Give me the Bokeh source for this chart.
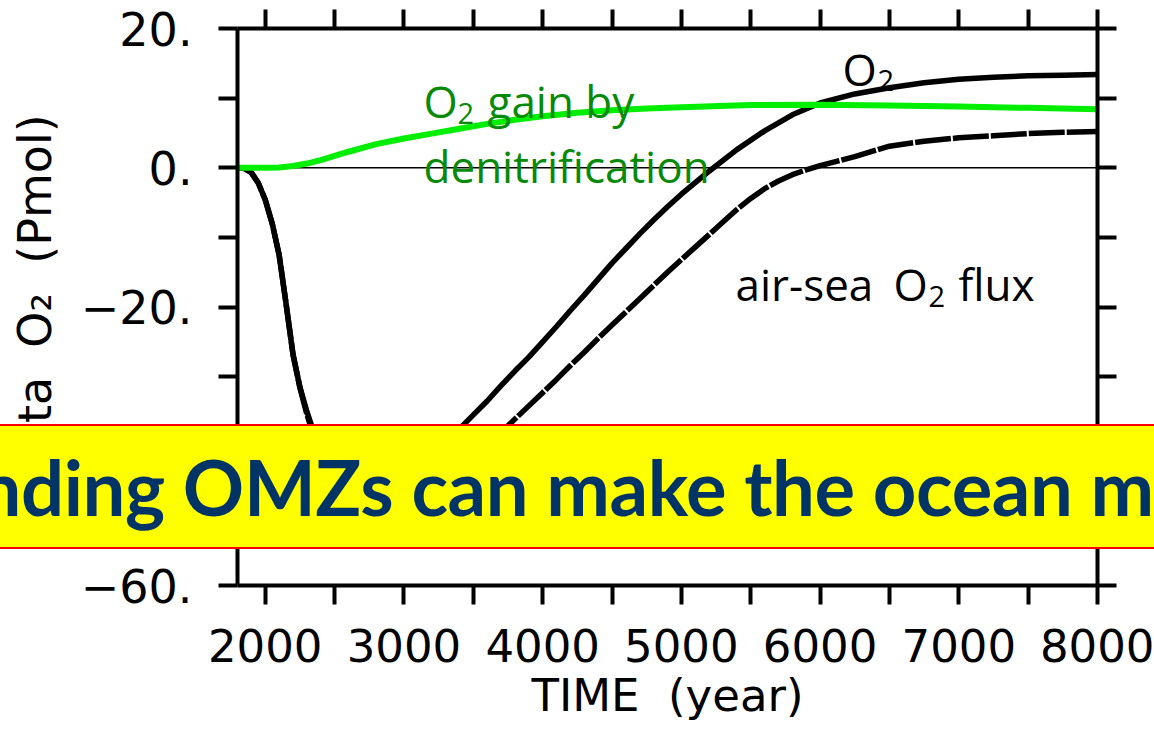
from bokeh.plotting import figure
from bokeh.models import Range1d, FixedTicker, Span, Label, LinearAxis, GridBox, Div
from bokeh.embed import file_html
from bokeh.resources import INLINE

# ---------------- data ----------------
years_o2 = [1800, 1850, 1900, 1950, 2000, 2050, 2100, 2150, 2200, 2250, 2300, 2350,
            2400, 2500, 2600, 2700, 2800, 2900, 3000, 3100, 3200, 3300, 3400, 3500,
            3600, 3700, 3800, 3900, 4000, 4100, 4200, 4300, 4400, 4500, 4600, 4700,
            4800, 4900, 5000, 5200, 5400, 5600, 5800, 6000, 6250, 6500, 6750, 7000,
            7250, 7500, 7750, 8000]
o2 = [0.0, -0.1, -0.7, -2.2, -4.6, -8.0, -12.5, -19.5, -26.8, -31.5, -35.0, -38.0,
      -40.5, -44.5, -47.5, -49.5, -50.5, -50.5, -49.5, -47.5, -44.5, -41.0, -37.5, -35.5,
      -33.5, -31.3, -29.2, -27.2, -25.0, -22.8, -20.5, -18.3, -16.0, -13.7, -11.6, -9.5,
      -7.5, -5.6, -3.8, -0.5, 2.6, 5.3, 7.6, 9.3, 10.6, 11.5, 12.2, 12.7,
      13.0, 13.2, 13.3, 13.4]

years_flux = [1800, 1850, 1900, 1950, 2000, 2050, 2100, 2150, 2200, 2250, 2300, 2350,
              2400, 2500, 2600, 2700, 2800, 2900, 3000, 3100, 3200, 3300, 3400, 3500,
              3600, 3700, 3800, 3900, 4000, 4100, 4200, 4300, 4400, 4500, 4600, 4700,
              4800, 4900, 5000, 5100, 5200, 5300, 5400, 5500, 5600, 5700, 5800, 5900,
              6000, 6250, 6500, 6750, 7000, 7250, 7500, 7750, 8000]
air_sea_flux = [0.0, -0.1, -0.7, -2.2, -4.6, -8.0, -12.5, -19.5, -26.8, -31.6, -35.4, -38.6,
                -41.3, -45.8, -49.3, -51.8, -53.3, -53.8, -53.4, -51.8, -49.2, -46.1, -42.9, -41.2,
                -39.5, -38.0, -36.1, -34.2, -32.3, -30.4, -28.4, -26.5, -24.5, -22.6, -20.7, -18.8,
                -16.9, -15.0, -13.2, -11.4, -9.6, -7.8, -6.0, -4.4, -3.0, -1.9, -1.0, -0.3,
                0.3, 1.6, 3.1, 3.8, 4.3, 4.6, 4.9, 5.1, 5.2]

years_denit = [1800, 1900, 2000, 2100, 2200, 2300, 2400, 2500, 2600, 2800, 3000, 3200,
               3400, 3600, 3800, 4000, 4250, 4500, 4750, 5000, 5500, 6000, 6500, 7000,
               7500, 8000]
denit_gain = [0.0, 0.0, 0.0, 0.05, 0.25, 0.6, 1.1, 1.7, 2.3, 3.4, 4.2, 4.9,
              5.6, 6.3, 6.9, 7.4, 7.9, 8.25, 8.5, 8.7, 9.0, 9.05, 8.95, 8.8,
              8.6, 8.4]

x_ticks = [2000, 2500, 3000, 3500, 4000, 4500, 5000, 5500, 6000, 6500, 7000, 7500, 8000]
x_tick_labels = ["2000", "", "3000", "", "4000", "", "5000", "", "6000", "", "7000", "", "8000"]
y_ticks = [20, 10, 0, -10, -20, -30, -40, -50, -60]
y_tick_labels = ["20.", "", "0.", "", "\u221220.", "", "\u221240.", "", "\u221260."]

banner_text = "Expanding OMZs can make the ocean more"

X0, X1 = 1800, 8000
Y0, Y1 = -60, 20

# frame geometry (pixels)
W, H = 1154, 737
FL, FR, FT, FB = 237, 1097, 28, 585
BAN_TOP, BAN_H = 424, 125


def dx(px):
    return X0 + (px - FL) * (X1 - X0) / (FR - FL)


def dy(py):
    return Y1 - (py - FT) * (Y1 - Y0) / (FB - FT)


p = figure(width=W, height=H, x_range=Range1d(X0, X1), y_range=Range1d(Y0, Y1),
           output_backend="svg", toolbar_location=None,
           min_border_left=FL, min_border_right=W - FR,
           min_border_top=FT, min_border_bottom=H - FB)
p.outline_line_color = None
p.xgrid.visible = False
p.ygrid.visible = False
p.background_fill_color = "white"
p.border_fill_color = "white"

bottom_ax = p.below[0]
left_ax = p.left[0]
top_ax = LinearAxis()
right_ax = LinearAxis()
p.add_layout(top_ax, "above")
p.add_layout(right_ax, "right")


def style_axis(ax, ticks, labels, show):
    ax.ticker = FixedTicker(ticks=ticks, minor_ticks=[])
    ax.axis_line_width = 4
    ax.axis_line_color = "black"
    ax.major_tick_line_width = 4
    ax.major_tick_line_color = "black"
    ax.major_tick_out = 19
    ax.major_tick_in = 0
    ax.minor_tick_out = 0
    ax.minor_tick_in = 0
    if show:
        ax.major_label_overrides = {t: l for t, l in zip(ticks, labels)}
        ax.major_label_text_font = "DejaVu Sans"
        ax.major_label_text_font_size = "45px"
        ax.major_label_text_color = "black"
    else:
        ax.major_label_overrides = {t: "" for t in ticks}
        ax.major_label_text_font_size = "1px"
        ax.major_label_standoff = 0


style_axis(bottom_ax, x_ticks, x_tick_labels, True)
style_axis(left_ax, y_ticks, y_tick_labels, True)
style_axis(top_ax, x_ticks, x_tick_labels, False)
style_axis(right_ax, y_ticks, y_tick_labels, False)
left_ax.major_label_text_font_size = "46px"

bottom_ax.major_label_standoff = 24
left_ax.major_label_standoff = 26

bottom_ax.axis_label = "TIME\u00a0\u00a0(year)"
left_ax.axis_label = "Delta\u00a0\u00a0O\u2082\u00a0\u00a0(Pmol)"
for ax in (bottom_ax, left_ax):
    ax.axis_label_text_font = "DejaVu Sans"
    ax.axis_label_text_font_size = "45px"
    ax.axis_label_text_font_style = "normal"
    ax.axis_label_text_color = "black"
left_ax.axis_label_text_font_size = "46px"
bottom_ax.axis_label_standoff = 4
left_ax.axis_label_standoff = 16

zero = Span(location=0, dimension="width", line_color="black", line_width=1.5, level="underlay")
p.add_layout(zero)

p.line(years_flux, air_sea_flux, line_color="black", line_width=5.5, line_dash="36 2")
p.line(years_o2, o2, line_color="black", line_width=5.5)
p.line(years_denit, denit_gain, line_color="#00ee00", line_width=6)

TXT_FONT = "Open Sans"
MAIN = "44px"
SUB = "29px"


def piece(px, py, text, size, color):
    p.add_layout(Label(x=dx(px), y=dy(py), text=text, text_font=TXT_FONT,
                       text_font_size=size, text_color=color,
                       text_align="left", text_baseline="alphabetic"))


GREEN_TXT = "#078a07"
piece(423, 100, "O", MAIN, GREEN_TXT)
piece(457, 113, "2", SUB, GREEN_TXT)
piece(487, 100, "gain by", MAIN, GREEN_TXT)
piece(423, 165, "denitrification", MAIN, GREEN_TXT)

piece(842, 68, "O", MAIN, "black")
piece(877, 80, "2", SUB, "black")

piece(735, 283, "air-sea", MAIN, "black")
piece(893, 283, "O", MAIN, "black")
piece(928, 296, "2", SUB, "black")
piece(958, 283, "flux", MAIN, "black")

# ---------------- banner overlaid on the chart ----------------
banner_style = (
    "box-sizing:border-box; width:%dpx; height:%dpx; margin:0; padding:0;"
    "background:#ffff00; border-top:2px solid #ff0000; border-bottom:2px solid #ff0000;"
    "overflow:hidden; white-space:nowrap; font-family:Lato, sans-serif; font-weight:bold;"
    "font-size:76px; letter-spacing:-0.4px; color:#003366; line-height:%dpx;"
    "text-indent:-185px;" % (W, BAN_H, BAN_H - 4)
)
banner = Div(text='<div style="%s">%s</div>' % (banner_style, banner_text),
             width=W, height=BAN_H, margin=(BAN_TOP, 0, 0, 0))

layout = GridBox(children=[(p, 0, 0), (banner, 0, 0)])

open("out.html", "w").write(file_html(layout, INLINE))
